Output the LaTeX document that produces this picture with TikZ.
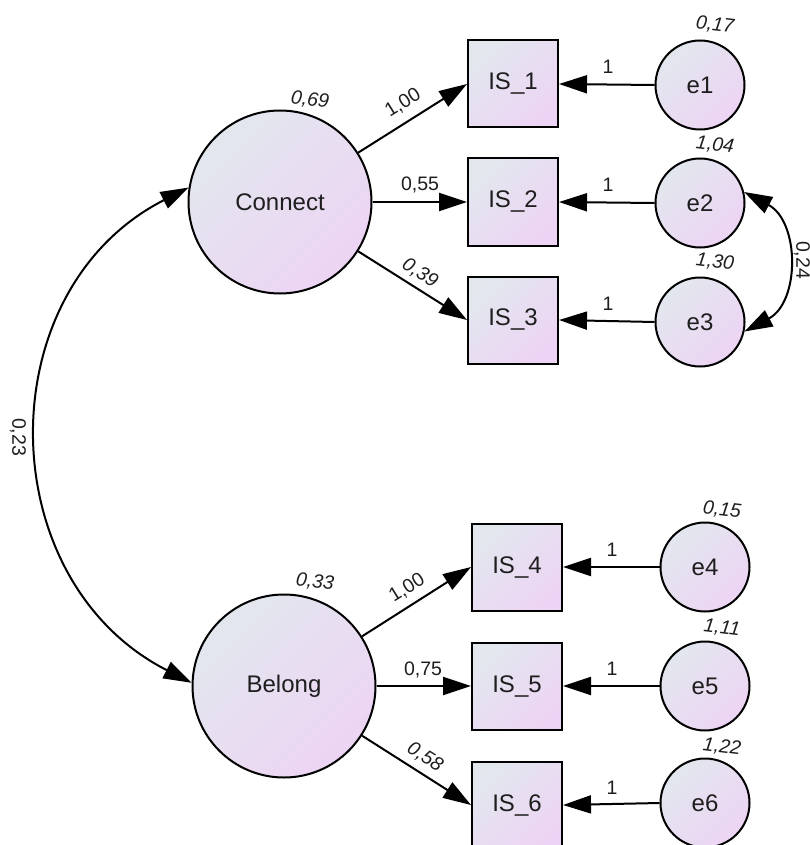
\documentclass[tikz,border=0pt]{standalone}
\usepackage{fontspec}
\setmainfont{Liberation Sans}
\usetikzlibrary{arrows.meta}
\definecolor{fillA}{RGB}{226,231,238}
\definecolor{fillB}{RGB}{237,212,244}
\definecolor{ink}{RGB}{30,30,30}
\begin{document}
\begin{tikzpicture}[x=1pt,y=1pt,
  grad/.style={top color=fillA, bottom color=fillB, shading angle=45},
  latent/.style={circle, grad, draw=black, line width=2pt, minimum size=183pt, inner sep=0pt,
    font=\fontsize{24}{28}\selectfont, text=ink},
  errvar/.style={circle, grad, draw=black, line width=2pt, minimum size=89pt, inner sep=0pt,
    font=\fontsize{24}{28}\selectfont, text=ink},
  obsbox/.style={rectangle, grad, draw=black, line width=2pt, minimum width=90pt, minimum height=87pt, inner sep=0pt,
    font=\fontsize{24}{28}\selectfont, text=ink},
  lab/.style={font=\fontsize{19.5}{23}\selectfont, text=ink, inner sep=0pt},
  ilab/.style={lab, font=\fontsize{19.5}{23}\selectfont\itshape},
  tip/.tip={Triangle[length=28pt,width=18pt]},
  path/.style={draw=black, line width=2pt, -tip},
  cov/.style={draw=black, line width=2pt, tip-tip}
]
\useasboundingbox (0,0) rectangle (809,-845);
% latent variables
\node[latent] (Connect) at (280,-202) {Connect};
\node[latent] (Belong) at (284,-686) {Belong};
% observed
\node[obsbox] (IS1) at (513,-84) {IS\_1};
\node[obsbox] (IS2) at (513,-202) {IS\_2};
\node[obsbox] (IS3) at (513,-320) {IS\_3};
\node[obsbox] (IS4) at (517,-567) {IS\_4};
\node[obsbox] (IS5) at (517,-686) {IS\_5};
\node[obsbox] (IS6) at (517,-805) {IS\_6};
% errors
\node[errvar] (e1) at (700,-85) {e1};
\node[errvar] (e2) at (700,-203) {e2};
\node[errvar] (e3) at (700,-322) {e3};
\node[errvar] (e4) at (705,-567) {e4};
\node[errvar] (e5) at (705,-686) {e5};
\node[errvar] (e6) at (705,-803) {e6};
% loadings
\draw[path] (Connect) -- (IS1.west);
\draw[path] (Connect) -- (IS2.west);
\draw[path] (Connect) -- (IS3.west);
\draw[path] (Belong) -- (IS4.west);
\draw[path] (Belong) -- (IS5.west);
\draw[path] (Belong) -- (IS6.west);
% error paths
\draw[path] (e1.west) -- (IS1.east);
\draw[path] (e2.west) -- (IS2.east);
\draw[path] (e3.west) -- (IS3.east);
\draw[path] (e4.west) -- (IS4.east);
\draw[path] (e5.west) -- (IS5.east);
\draw[path] (e6.west) -- (IS6.east);
% covariances
\draw[cov] (Connect.171) .. controls +(207:226pt) and +(153:226pt) .. (Belong.178);
\draw[cov] (e2.14) .. controls +(-28:63pt) and +(28:63pt) .. (e3.-12);
% labels
\node[ilab, rotate=-7] (vC) at (310,-100) {0,69};
\node[ilab, rotate=-7] (vB) at (315,-582) {0,33};
\node[lab, rotate=32] (l1) at (403,-103) {1,00};
\node[lab] (l2) at (420,-185) {0,55};
\node[ilab, rotate=-32] (l3) at (420,-273) {0,39};
\node[lab, rotate=32] (l4) at (407,-588) {1,00};
\node[lab] (l5) at (423,-670) {0,75};
\node[ilab, rotate=-32] (l6) at (425,-757) {0,58};
\node[lab] (o1) at (608,-67) {1};
\node[lab] (o2) at (608,-185) {1};
\node[lab] (o3) at (608,-304) {1};
\node[lab] (o4) at (612,-550) {1};
\node[lab] (o5) at (612,-669) {1};
\node[lab] (o6) at (612,-788) {1};
\node[ilab, rotate=-7] (v1) at (715,-25) {0,17};
\node[ilab, rotate=-7] (v2) at (715,-145) {1,04};
\node[ilab, rotate=-7] (v3) at (715,-262) {1,30};
\node[ilab, rotate=-7] (v4) at (722,-510) {0,15};
\node[ilab, rotate=-7] (v5) at (722,-628) {1,11};
\node[ilab, rotate=-7] (v6) at (722,-747) {1,22};
\node[lab, rotate=-90] (c1) at (18,-437) {0,23};
\node[lab, rotate=-90] (c2) at (802,-260) {0,24};
\end{tikzpicture}
\end{document}
